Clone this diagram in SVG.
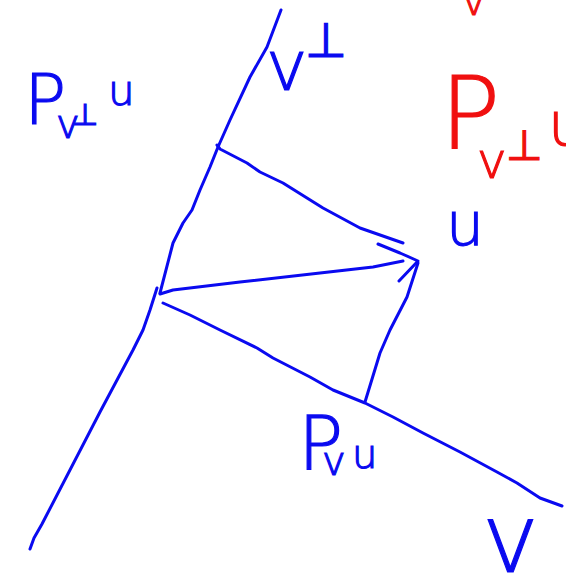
<svg xmlns="http://www.w3.org/2000/svg" width="566" height="579" viewBox="0 0 566 579">
<style>
.s{fill:none;stroke:#0a0af0;stroke-width:3;stroke-linecap:round;stroke-linejoin:round}
.b{fill:#0a0af0;stroke:#0a0af0;stroke-width:1.2;font-family:"DejaVu Sans",sans-serif;font-weight:200}
.r{fill:#f01010;stroke:#f01010;stroke-width:1.2;font-family:"DejaVu Sans",sans-serif;font-weight:200}
</style>
<rect width="566" height="579" fill="#ffffff"/>
<g id="connectors">
<path class="s" d="M30,549 L34,538 L42,524 L100,412 L133,350 L143,330 L150,310 L157,288"/>
<path class="s" d="M160,293 L173,243 L183,223 L192,210 L200,190 L210,167 L218,147 L230,120 L250,77 L267,47 L281,10"/>
<path class="s" d="M217,145 L220,149 L247,163 L260,172 L283,183 L323,208 L360,228 L403,243"/>
<path class="s" d="M160,294 L173,290 L240,282 L320,273 L373,267 L403,261"/>
<path class="s" d="M378,244 L400,253 L418,261 L399,281"/>
<path class="s" d="M418,263 L407,297 L390,330 L380,353 L365,402"/>
<path class="s" d="M163,303 L190,315 L220,330 L257,348 L273,358 L310,377 L333,390 L365,403 L393,417 L423,433 L460,452 L497,472 L517,483 L540,498 L562,506"/>
</g>
<g id="label-pvperp-u"><text class="b"><tspan x="24" y="124" font-size="70">P</tspan><tspan x="56" y="138" font-size="40">v</tspan><tspan x="72" y="125" font-size="30">⊥</tspan><tspan x="108" y="105" font-size="42">u</tspan></text></g>
<g id="label-vperp"><text class="b"><tspan x="266" y="90" font-size="70">v</tspan><tspan x="305" y="57" font-size="48">⊥</tspan></text></g>
<g id="label-red-pvperp-u"><text class="r"><tspan x="440" y="148" font-size="100">P</tspan><tspan x="477" y="178" font-size="50">v</tspan><tspan x="506" y="160" font-size="42">⊥</tspan><tspan x="548" y="145" font-size="60">u</tspan></text></g>
<g id="label-red-v"><text class="r" x="462" y="15" font-size="40">v</text></g>
<g id="label-u"><text class="b" x="446" y="245" font-size="60">u</text></g>
<g id="label-pvu"><text class="b"><tspan x="298" y="470" font-size="75">P</tspan><tspan x="322" y="475" font-size="40">v</tspan><tspan x="352" y="468" font-size="40">u</tspan></text></g>
<g id="label-v"><text class="b" x="482" y="572" font-size="96">v</text></g>
</svg>
